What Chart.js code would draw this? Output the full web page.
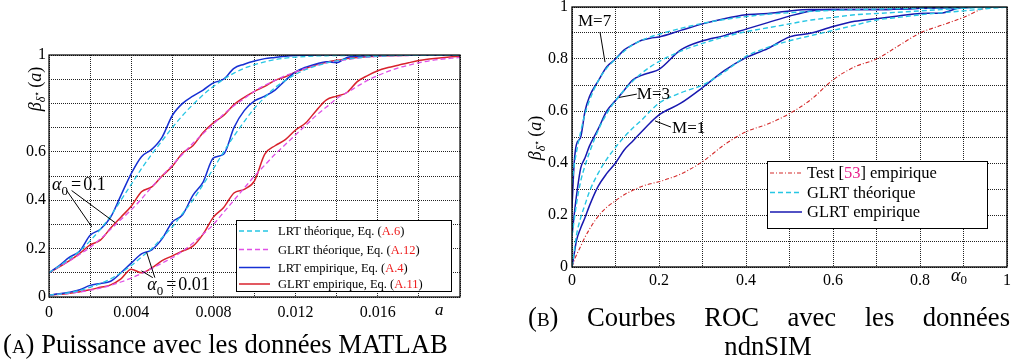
<!DOCTYPE html>
<html><head><meta charset="utf-8">
<script src="https://cdn.jsdelivr.net/npm/chart.js@4.4.0/dist/chart.umd.min.js"></script>
<style>
html,body{margin:0;padding:0;background:#fff;width:1015px;height:364px;overflow:hidden}
.wrap{position:absolute;left:0;top:0;width:1015px;height:330px}
.cap{position:absolute;white-space:nowrap;font-family:'Liberation Serif','Times New Roman',serif;line-height:1;color:#000;font-size:24px}
.sc{font-variant:small-caps}
</style></head><body>
<div class="wrap"><canvas id="cA"></canvas></div>
<div class="wrap"><canvas id="cB"></canvas></div>
<div id="capA" class="cap">(<span class="sc">a</span>) Puissance avec les données MATLAB</div>
<div id="capB1" class="cap">(<span class="sc">b</span>) Courbes ROC avec les données</div>
<div id="capB2" class="cap">ndnSIM</div>
<script>
// ---------- Panel A data : power vs a ----------
const powerA = [0,0.0005,0.001,0.0015,0.002,0.0025,0.003,0.0035,0.004,0.0045,0.005,0.0055,0.006,0.0065,0.007,0.0075,0.008,0.0085,0.009,0.0095,0.01,0.0105,0.011,0.0115,0.012,0.0125,0.013,0.0135,0.014,0.0145,0.015,0.0155,0.016,0.0165,0.017,0.0175,0.018,0.0185,0.019,0.0195,0.02];
const lrtTheo01  = [.10,.128,.158,.19,.232,.28,.335,.40,.465,.53,.59,.645,.70,.75,.795,.835,.87,.90,.925,.945,.96,.972,.981,.987,.991,.994,.996,.997,.998,.998,.999,.999,.999,1,1,1,1,1,1,1,1];
const glrtTheo01 = [.10,.125,.15,.177,.205,.24,.28,.32,.36,.405,.455,.50,.545,.59,.635,.675,.715,.755,.79,.82,.85,.875,.895,.915,.93,.945,.957,.967,.975,.981,.987,.991,.994,.996,.997,.998,.999,.999,1,1,1];
const lrtEmp01   = [.10,.13,.165,.19,.255,.28,.33,.42,.51,.58,.61,.66,.75,.80,.83,.855,.885,.90,.945,.962,.975,.985,.99,.995,.998,.999,1,1,1,1,1,1,1,1,1,1,1,1,1,1,1];
const glrtEmp01  = [.10,.125,.15,.18,.215,.235,.285,.33,.375,.435,.455,.50,.54,.595,.625,.68,.72,.75,.795,.825,.85,.87,.895,.91,.93,.945,.96,.97,.978,.985,.99,.993,.996,.997,.998,.999,.999,1,1,1,1];
const lrtTheo001 = [.008,.012,.018,.027,.04,.055,.075,.10,.13,.165,.20,.245,.29,.345,.40,.465,.53,.60,.665,.725,.78,.825,.865,.895,.92,.94,.955,.967,.976,.983,.988,.992,.995,.997,.998,.999,1,1,1,1,1];
const glrtTheo001= [.008,.011,.015,.021,.028,.037,.048,.062,.078,.097,.118,.14,.162,.19,.222,.26,.30,.35,.40,.45,.50,.545,.59,.63,.67,.71,.75,.785,.82,.845,.87,.895,.915,.932,.947,.958,.968,.976,.982,.986,.99];
const lrtEmp001  = [.008,.013,.02,.03,.048,.056,.065,.10,.14,.178,.195,.24,.31,.34,.42,.475,.575,.59,.70,.77,.81,.83,.855,.895,.93,.95,.963,.972,.968,.99,.995,.997,.998,.999,1,1,1,1,1,1,1];
const glrtEmp001 = [.008,.011,.015,.022,.03,.04,.05,.075,.115,.10,.12,.15,.17,.19,.21,.26,.33,.37,.43,.445,.48,.59,.625,.65,.69,.72,.77,.815,.83,.845,.89,.915,.935,.948,.958,.968,.977,.983,.988,.992,.995];
const ticksA_x = ['0','0.004','0.008','0.012','0.016'];
const ticksA_y = ['0','0.2','0.4','0.6','1'];

// ---------- Panel B data : ROC ----------
const alpha0 = [0,0.005,0.01,0.02,0.03,0.04,0.06,0.08,0.1,0.12,0.14,0.16,0.18,0.2,0.25,0.3,0.35,0.4,0.45,0.5,0.55,0.6,0.65,0.7,0.75,0.8,0.85,0.9,0.95,1];
const test53     = [0,.025,.045,.08,.115,.145,.195,.23,.255,.278,.295,.31,.32,.328,.358,.405,.47,.52,.55,.59,.645,.72,.77,.80,.85,.90,.93,.96,.995,1];
const glrtTheoM1 = [0,.06,.12,.19,.24,.29,.36,.415,.46,.50,.535,.565,.60,.63,.67,.70,.75,.81,.845,.87,.89,.91,.93,.95,.96,.97,.978,.985,.993,1];
const glrtEmpM1  = [0,.05,.10,.15,.19,.235,.31,.36,.40,.45,.485,.52,.555,.585,.63,.69,.755,.805,.84,.885,.90,.925,.945,.955,.965,.975,.977,1,1,1];
const glrtTheoM3 = [.12,.18,.24,.33,.39,.44,.525,.59,.64,.68,.715,.745,.77,.79,.83,.86,.885,.905,.92,.935,.95,.96,.97,.975,.98,.985,.99,.995,.998,1];
const glrtEmpM3  = [.12,.2,.27,.38,.42,.465,.53,.60,.64,.68,.72,.737,.748,.76,.835,.87,.89,.915,.94,.965,.985,.99,.99,.99,.992,.995,.997,.998,1,1];
const glrtTheoM7 = [.32,.39,.44,.52,.59,.64,.715,.765,.80,.83,.855,.872,.885,.895,.918,.937,.952,.963,.972,.978,.983,.987,.99,.992,.994,.996,.997,.998,.999,1];
const glrtEmpM7  = [.23,.40,.47,.50,.60,.655,.715,.77,.80,.835,.855,.872,.88,.885,.91,.935,.955,.97,.975,.985,.99,.99,.99,.99,.992,.995,.997,.998,1,1];
const ticksB_x = ['0','0.2','0.4','0.6','0.8','1'];
const ticksB_y = ['0','0.2','0.4','0.6','0.8','1'];

// ---------- styling ----------
const SERIF = "'Liberation Serif','Times New Roman',serif";
const COL = {cyan:'#26c6e4', magenta:'#e050e6', blue:'#1630d4', red:'#d8222c', navy:'#1818b0', redB:'#d42a2a', ref:'#ee1c1c', pink:'#e8238c'};
const fnt = (s,it)=> (it?'italic ':'')+s+'px '+SERIF;

function ds(xs, ys, color, dash, width, order){
  return {data: xs.map((x,i)=>({x:x, y:ys[i]})), borderColor: color, borderDash: dash||[], borderWidth: width,
          pointRadius:0, fill:false, cubicInterpolationMode:'monotone', order: order};
}
function rich(ctx, x, y, segs){
  let cx = x;
  for (const s of segs){
    ctx.font = fnt(s.size, s.it); ctx.fillStyle = s.c || '#000';
    ctx.fillText(s.t, cx, y + (s.dy||0));
    cx += ctx.measureText(s.t).width + (s.sp||0);
  }
  return cx - x;
}
function richW(ctx, segs){
  let w=0; for (const s of segs){ ctx.font = fnt(s.size, s.it); w += ctx.measureText(s.t).width + (s.sp||0);} return w;
}
function betaTitle(ctx, cx, cy){
  const segs = [{t:'β',it:true,size:18},{t:'δ',it:true,size:12,dy:4},{t:'⋆',size:10,dy:-1,sp:3},
                {t:'(',size:18},{t:'a',it:true,size:18},{t:')',size:18}];
  ctx.save(); ctx.translate(cx, cy); ctx.rotate(-Math.PI/2);
  ctx.textBaseline='alphabetic'; ctx.textAlign='left';
  const w = richW(ctx, segs); rich(ctx, -w/2, 6, segs); ctx.restore();
}
function legend(ctx, box, rows, x1, x2, xt, fs){
  ctx.save();
  ctx.fillStyle='#fff'; ctx.fillRect(box[0],box[1],box[2],box[3]);
  ctx.strokeStyle='#000'; ctx.lineWidth=1; ctx.setLineDash([]);
  ctx.strokeRect(box[0]+0.5,box[1]+0.5,box[2],box[3]);
  ctx.textBaseline='middle'; ctx.textAlign='left';
  for (const r of rows){
    ctx.strokeStyle=r.color; ctx.lineWidth=r.w; ctx.setLineDash(r.dash);
    ctx.beginPath(); ctx.moveTo(x1, r.y); ctx.lineTo(x2, r.y); ctx.stroke();
    ctx.setLineDash([]);
    rich(ctx, xt, r.y+1, r.segs.map(s=>Object.assign({size:fs}, s)));
  }
  ctx.restore();
}
function segLine(ctx, x, y, p){
  ctx.beginPath(); ctx.moveTo(x.getPixelForValue(p[0]), y.getPixelForValue(p[1]));
  ctx.lineTo(x.getPixelForValue(p[2]), y.getPixelForValue(p[3])); ctx.stroke();
}

const decoA = {
  id:'decoA',
  afterDatasetsDraw(chart){
    const {ctx, chartArea:ca, scales:{x,y}} = chart;
    ctx.save();
    ctx.strokeStyle='#000'; ctx.lineWidth=1.2; ctx.setLineDash([]);
    ctx.strokeRect(ca.left, ca.top, ca.right-ca.left, ca.bottom-ca.top);
    ctx.lineWidth=1; ctx.strokeStyle='#000';
    ctx.textBaseline='alphabetic'; ctx.textAlign='left';
    const t1 = [{t:'α',it:true,size:18},{t:'0',size:13,dy:5,sp:3},{t:'=',size:18,sp:2},{t:'0.1',size:18}];
    rich(ctx, x.getPixelForValue(0.00015), y.getPixelForValue(0.443), t1);
    segLine(ctx,x,y,[0.00086,0.44,0.00208,0.29]);
    segLine(ctx,x,y,[0.0011,0.44,0.00322,0.307]);
    const t2 = [{t:'α',it:true,size:18},{t:'0',size:13,dy:5,sp:3},{t:'=',size:18,sp:2},{t:'0.01',size:18}];
    rich(ctx, x.getPixelForValue(0.00478), y.getPixelForValue(0.03), t2);
    segLine(ctx,x,y,[0.00515,0.08,0.00475,0.185]);
    segLine(ctx,x,y,[0.00505,0.08,0.0045,0.108]);
    ctx.textBaseline='middle';
    rich(ctx, 435, 311, [{t:'a',it:true,size:17}]);
    betaTitle(ctx, 35, 89);
    legend(ctx, [236,220,215,71], [
      {y:231, color:COL.cyan, dash:[5,3], w:1.3, segs:[{t:'LRT théorique, Eq. ('},{t:'A.6',c:COL.ref},{t:')'}]},
      {y:249.5, color:COL.magenta, dash:[5,3], w:1.3, segs:[{t:'GLRT théorique, Eq. ('},{t:'A.12',c:COL.ref},{t:')'}]},
      {y:267.5, color:COL.blue, dash:[], w:1.5, segs:[{t:'LRT empirique, Eq. ('},{t:'A.4',c:COL.ref},{t:')'}]},
      {y:284, color:COL.red, dash:[], w:1.5, segs:[{t:'GLRT empirique, Eq. ('},{t:'A.11',c:COL.ref},{t:')'}]}
    ], 239, 270, 278, 12.5);
    ctx.restore();
  }
};

const decoB = {
  id:'decoB',
  afterDatasetsDraw(chart){
    const {ctx, chartArea:ca, scales:{x,y}} = chart;
    ctx.save();
    ctx.strokeStyle='#000'; ctx.lineWidth=1.3; ctx.setLineDash([]);
    ctx.strokeRect(ca.left, ca.top, ca.right-ca.left, ca.bottom-ca.top);
    ctx.lineWidth=1;
    ctx.textBaseline='alphabetic'; ctx.textAlign='left';
    rich(ctx, x.getPixelForValue(0.0138), y.getPixelForValue(0.927), [{t:'M=7',size:17}]);
    segLine(ctx,x,y,[0.0644,0.904,0.0759,0.788]);
    rich(ctx, x.getPixelForValue(0.149), y.getPixelForValue(0.646), [{t:'M=3',size:17}]);
    segLine(ctx,x,y,[0.149,0.665,0.108,0.652]);
    rich(ctx, x.getPixelForValue(0.23), y.getPixelForValue(0.515), [{t:'M=1',size:17}]);
    segLine(ctx,x,y,[0.2276,0.538,0.1908,0.562]);
    ctx.textBaseline='middle';
    rich(ctx, 951, 276, [{t:'α',it:true,size:18},{t:'0',size:13,dy:5}]);
    betaTitle(ctx, 535, 138);
    legend(ctx, [767,161,220,67], [
      {y:173, color:COL.redB, dash:[4,2,1,2], w:1.1, segs:[{t:'Test ['},{t:'53',c:COL.pink},{t:'] empirique'}]},
      {y:192.5, color:COL.cyan, dash:[5,3], w:1.3, segs:[{t:'GLRT théorique'}]},
      {y:212, color:COL.navy, dash:[], w:1.5, segs:[{t:'GLRT empirique'}]}
    ], 770, 802, 807, 16.5);
    ctx.restore();
  }
};

function yFit(w){ return function(s){ s.width=w; s.paddingTop=0; s.paddingBottom=0; }; }
function xFit(h){ return function(s){ s.height=h; s.paddingLeft=0; s.paddingRight=0; }; }
const gridOpt = {color:'#222', lineWidth:1, drawTicks:false};
const borderOpt = {display:false, dash:[1,1]};
const tickFont = {family:SERIF, size:16};

function labelFor(list, v){
  for (const s of list){ if (Math.abs(parseFloat(s)-v) < 1e-9) return s; }
  return '';
}

new Chart(document.getElementById('cA'), {
  type:'line',
  data:{datasets:[
    ds(powerA, lrtTheo01, COL.cyan, [5,3], 1.3, 1),
    ds(powerA, glrtTheo01, COL.magenta, [5,3], 1.3, 2),
    ds(powerA, lrtEmp01, COL.blue, [], 1.5, 3),
    ds(powerA, glrtEmp01, COL.red, [], 1.5, 4),
    ds(powerA, lrtTheo001, COL.cyan, [5,3], 1.3, 1),
    ds(powerA, glrtTheo001, COL.magenta, [5,3], 1.3, 2),
    ds(powerA, lrtEmp001, COL.blue, [], 1.5, 3),
    ds(powerA, glrtEmp001, COL.red, [], 1.5, 4)
  ]},
  options:{
    responsive:true, maintainAspectRatio:false, animation:false,
    layout:{padding:{left:0,right:555,top:55,bottom:0}},
    plugins:{legend:{display:false}, tooltip:{enabled:false}},
    scales:{
      x:{type:'linear', min:0, max:0.02, grid:gridOpt, border:borderOpt, afterFit:xFit(33),
         ticks:{stepSize:0.002, autoSkip:false, maxRotation:0, padding:6, color:'#000', font:tickFont,
                callback:(v)=>labelFor(ticksA_x, Math.round(v*1000)/1000)}},
      y:{type:'linear', min:0, max:1, grid:gridOpt, border:borderOpt, afterFit:yFit(49),
         ticks:{stepSize:0.1, autoSkip:false, padding:3, color:'#000', font:tickFont,
                callback:(v)=>labelFor(ticksA_y, Math.round(v*10)/10)}}
    }
  },
  plugins:[decoA]
});

new Chart(document.getElementById('cB'), {
  type:'line',
  data:{datasets:[
    ds(alpha0, test53, COL.redB, [4,2,1,2], 1.1, 5),
    ds(alpha0, glrtTheoM1, COL.cyan, [5,3], 1.4, 1),
    ds(alpha0, glrtTheoM3, COL.cyan, [5,3], 1.4, 1),
    ds(alpha0, glrtTheoM7, COL.cyan, [5,3], 1.4, 1),
    ds(alpha0, glrtEmpM1, COL.navy, [], 1.5, 2),
    ds(alpha0, glrtEmpM3, COL.navy, [], 1.5, 2),
    ds(alpha0, glrtEmpM7, COL.navy, [], 1.5, 2)
  ]},
  options:{
    responsive:true, maintainAspectRatio:false, animation:false,
    layout:{padding:{left:505,right:8,top:7,bottom:0}},
    plugins:{legend:{display:false}, tooltip:{enabled:false}},
    scales:{
      x:{type:'linear', min:0, max:1, grid:gridOpt, border:borderOpt, afterFit:xFit(63),
         ticks:{stepSize:0.1, autoSkip:false, maxRotation:0, padding:4, color:'#000', font:tickFont,
                callback:(v)=>labelFor(ticksB_x, Math.round(v*10)/10)}},
      y:{type:'linear', min:0, max:1, grid:gridOpt, border:borderOpt, afterFit:yFit(67),
         ticks:{stepSize:0.1, autoSkip:false, padding:4, color:'#000', font:tickFont,
                callback:(v)=>labelFor(ticksB_y, Math.round(v*10)/10)}}
    }
  },
  plugins:[decoB]
});

(function(){
  const A = document.getElementById('capA'), B1 = document.getElementById('capB1'), B2 = document.getElementById('capB2');
  const base = 24;
  const wA = A.getBoundingClientRect().width;
  const fs = base * 445 / wA;
  const asc = 0.8375;
  [A,B1,B2].forEach(e=>e.style.fontSize = fs+'px');
  A.style.left='3px'; A.style.top=(353 - asc*fs)+'px';
  const w1 = B1.getBoundingClientRect().width;
  B1.style.wordSpacing = ((482 - w1)/5)+'px';
  B1.style.left='528px'; B1.style.top=(326 - asc*fs)+'px';
  const w2 = B2.getBoundingClientRect().width;
  B2.style.left=(768 - w2/2)+'px'; B2.style.top=(355 - asc*fs)+'px';
})();
</script>
</body></html>
